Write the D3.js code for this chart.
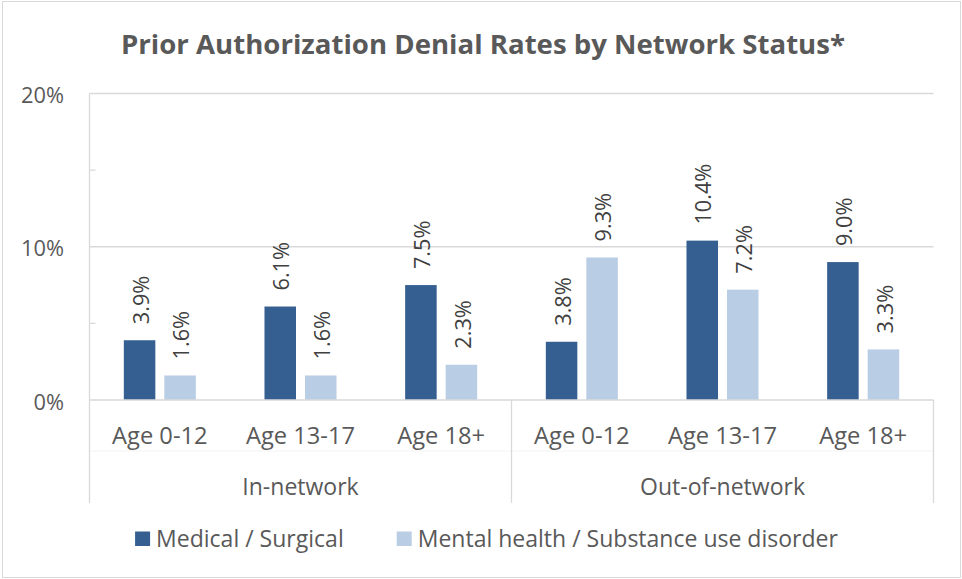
<!DOCTYPE html>
<html>
<head>
<meta charset="utf-8">
<script src="https://cdn.jsdelivr.net/npm/d3@7"></script>
<style>
  html, body { margin: 0; padding: 0; background: #ffffff; }
  svg { display: block; font-family: "Open Sans", "Noto Sans", sans-serif; }
</style>
</head>
<body>
<svg id="chart" width="962" height="579"></svg>
<script>
// ---- data ----
const title = "Prior Authorization Denial Rates by Network Status*";
const groups = ["In-network", "Out-of-network"];
const ages = ["Age 0-12", "Age 13-17", "Age 18+"];
const seriesNames = ["Medical / Surgical", "Mental health / Substance use disorder"];
const medicalSurgical = [3.9, 6.1, 7.5, 3.8, 10.4, 9.0];
const mentalHealthSud = [1.6, 1.6, 2.3, 9.3, 7.2, 3.3];
const yTickValues = [0, 10, 20];
const yMinorTicks = [5, 15];

// ---- styling ----
const colors = ["#365F91", "#B9CDE5"];
const textColor = "#595959";
const valueColor = "#404040";
const lineColor = "#d9d9d9";

const svg = d3.select("#chart");
const plot = { left: 89.5, right: 933.5, top: 93.5, bottom: 400 };
const axisBottomEnd = 503;

// font fitting helper: size such that sample text gets target width
function fitSize(sample, target, weight) {
  const t = svg.append("text").attr("font-size", 100).attr("font-weight", weight || "normal").text(sample);
  const len = t.node().getComputedTextLength();
  t.remove();
  return 100 * target / len;
}
const fsCat = fitSize("Age 0-12", 95.6);
const fsGroup = fitSize("Out-of-network", 165);
const fsY = fitSize("20%", 43);
const fsVal = fitSize("10.4%", 61);
const fsLegend = fitSize("Medical / Surgical", 187.7);

// outer border
svg.append("rect").attr("x", 2.5).attr("y", 1.5).attr("width", 958).attr("height", 576)
  .attr("fill", "#fff").attr("stroke", lineColor).attr("stroke-width", 1);

// title (condensed to match reference width)
svg.append("text").attr("x", 483).attr("y", 54).attr("text-anchor", "middle")
  .attr("font-weight", "bold").attr("font-size", 27).attr("fill", textColor)
  .attr("textLength", 724).attr("lengthAdjust", "spacingAndGlyphs").text(title);

// scales
const categories = [];
groups.forEach(g => ages.forEach(a => categories.push(g + "|" + a)));
const x0 = d3.scaleBand().domain(categories).range([plot.left, plot.right]).paddingInner(0).paddingOuter(0);
const x1 = d3.scaleBand().domain(seriesNames).range([0, x0.bandwidth()]).paddingInner(0.222).paddingOuter(0.847);
const y = d3.scaleLinear().domain([0, 20]).range([plot.bottom, plot.top]);

// gridlines
svg.append("g").selectAll("line").data(yTickValues.filter(d => d > 0)).join("line")
  .attr("x1", plot.left).attr("x2", plot.right)
  .attr("y1", d => y(d)).attr("y2", d => y(d))
  .attr("stroke", lineColor).attr("stroke-width", 1.3);

// minor ticks
svg.append("g").selectAll("line").data(yMinorTicks).join("line")
  .attr("x1", plot.left).attr("x2", plot.left + 6)
  .attr("y1", d => y(d)).attr("y2", d => y(d))
  .attr("stroke", lineColor).attr("stroke-width", 1.3);

// faint separator between category levels
svg.append("line").attr("x1", plot.left).attr("x2", plot.right).attr("y1", 451).attr("y2", 451)
  .attr("stroke", "#f3f3f3").attr("stroke-width", 1);

// vertical axis line (left) extends through the category area
svg.append("line").attr("x1", plot.left).attr("x2", plot.left).attr("y1", plot.top).attr("y2", axisBottomEnd)
  .attr("stroke", lineColor).attr("stroke-width", 1.3);
// group separators in the category area
const groupEdges = [plot.left + x0.bandwidth() * ages.length, plot.right];
svg.append("g").selectAll("line").data(groupEdges).join("line")
  .attr("x1", d => d).attr("x2", d => d).attr("y1", plot.bottom).attr("y2", axisBottomEnd)
  .attr("stroke", lineColor).attr("stroke-width", 1.3);

// bars
const barData = categories.map((c, i) => ({ cat: c, values: [medicalSurgical[i], mentalHealthSud[i]] }));
const gBars = svg.append("g");
barData.forEach(d => {
  d.values.forEach((v, si) => {
    const bx = x0(d.cat) + x1(seriesNames[si]);
    gBars.append("rect")
      .attr("x", bx).attr("y", y(v))
      .attr("width", x1.bandwidth()).attr("height", y(0) - y(v))
      .attr("fill", colors[si]);
    const cx = bx + x1.bandwidth() / 2 + 1.5;
    const ty = y(v) - 16;
    gBars.append("text")
      .attr("transform", `translate(${cx},${ty}) rotate(-90)`)
      .attr("dy", "0.35em")
      .attr("font-size", fsVal).attr("fill", valueColor)
      .text(v.toFixed(1) + "%");
  });
});

// x axis baseline
svg.append("line").attr("x1", plot.left).attr("x2", plot.right).attr("y1", y(0)).attr("y2", y(0))
  .attr("stroke", lineColor).attr("stroke-width", 1.3);

// y axis labels
const yAxis = svg.append("g").attr("transform", `translate(${plot.left},0)`)
  .call(d3.axisLeft(y).tickValues(yTickValues).tickFormat(d => d + "%").tickSize(0).tickPadding(25.5));
yAxis.select(".domain").remove();
yAxis.selectAll("text").attr("font-size", fsY).attr("fill", textColor)
  .attr("font-family", "Open Sans, Noto Sans, sans-serif").attr("dy", "0.35em")
  .attr("transform", "translate(0,1.5)");

// category (age) labels
const xAxis = svg.append("g").attr("transform", `translate(0,${plot.bottom})`)
  .call(d3.axisBottom(x0).tickFormat(d => d.split("|")[1]).tickSize(0).tickPadding(0));
xAxis.select(".domain").remove();
xAxis.selectAll("text").attr("font-size", fsCat).attr("fill", textColor)
  .attr("font-family", "Open Sans, Noto Sans, sans-serif")
  .attr("dy", null).attr("y", 44.3);

// group labels
svg.append("g").selectAll("text").data(groups).join("text")
  .attr("x", g => {
    const first = x0(g + "|" + ages[0]);
    const last = x0(g + "|" + ages[ages.length - 1]) + x0.bandwidth();
    return (first + last) / 2;
  })
  .attr("y", 495).attr("text-anchor", "middle")
  .attr("font-size", fsGroup).attr("fill", textColor).text(g => g);

// legend
const legend = svg.append("g");
const sw = 15, gapText = 6, gapItem = 53;
const widths = seriesNames.map(n => {
  const t = legend.append("text").attr("font-size", fsLegend).text(n);
  const w = t.node().getComputedTextLength(); t.remove(); return w;
});
const total = widths.reduce((a, w) => a + sw + gapText + w, 0) + gapItem * (seriesNames.length - 1);
let lx = 486.5 - total / 2;
seriesNames.forEach((n, i) => {
  legend.append("rect").attr("x", lx).attr("y", 531.5).attr("width", sw).attr("height", sw - 0.5).attr("fill", colors[i]);
  legend.append("text").attr("x", lx + sw + gapText).attr("y", 546.5)
    .attr("font-size", fsLegend).attr("fill", textColor).text(n);
  lx += sw + gapText + widths[i] + gapItem;
});
</script>
</body>
</html>
